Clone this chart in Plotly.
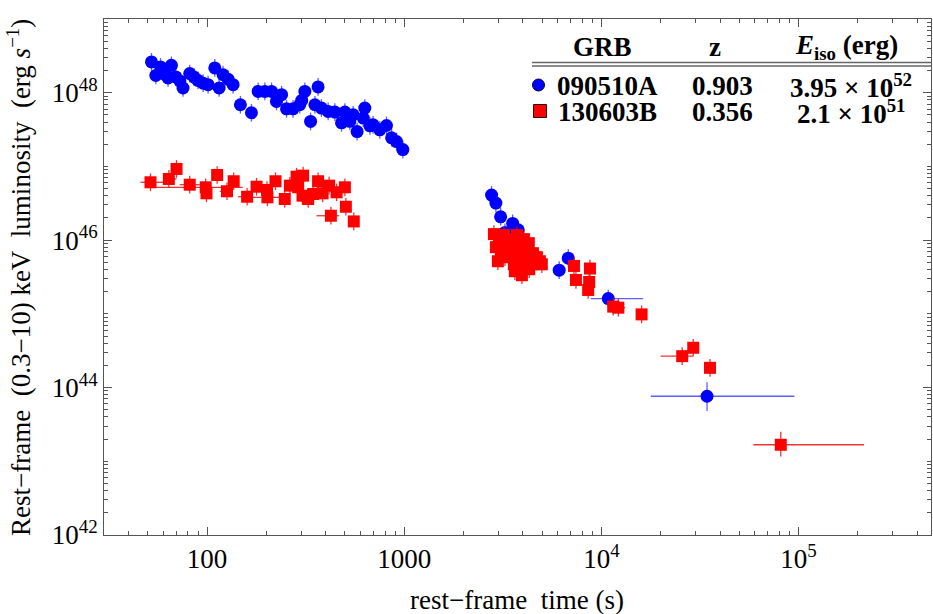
import numpy as np
import plotly.graph_objects as go

# ---------------- data (log10 values) ----------------
# GRB 090510A (blue circles)
blue_log_t = [1.718, 1.740, 1.764, 1.790, 1.802, 1.819, 1.841, 1.862, 1.878, 1.912,
              1.935, 1.954, 1.980, 2.005, 2.039, 2.061, 2.081, 2.107, 2.132, 2.169,
              2.225, 2.259, 2.293, 2.327, 2.352, 2.378, 2.403, 2.436, 2.470, 2.480,
              2.496, 2.525, 2.547, 2.563, 2.580, 2.614, 2.648, 2.682, 2.699, 2.724,
              2.741, 2.761, 2.792, 2.800, 2.826, 2.842, 2.876, 2.910, 2.936, 2.961,
              2.993, 3.443, 3.465, 3.489, 3.511, 3.550, 3.578, 3.786, 3.832, 4.035,
              4.536]
blue_log_L = [48.418, 48.235, 48.350, 48.240, 48.200, 48.371, 48.214, 48.160, 48.064, 48.259,
              48.210, 48.167, 48.130, 48.109, 48.336, 48.064, 48.245, 48.181, 48.109, 47.837,
              47.728, 48.018, 48.018, 48.018, 47.882, 47.973, 47.782, 47.782, 47.837, 47.895,
              48.018, 47.610, 47.837, 48.078, 47.792, 47.746, 47.737, 47.592, 47.737, 47.612,
              47.701, 47.473, 47.656, 47.792, 47.551, 47.565, 47.497, 47.555, 47.388, 47.337,
              47.229, 46.612, 46.503, 46.317, 46.105, 46.227, 46.140, 45.592, 45.755, 45.207,
              43.882]
blue_hbar_at = [4.035, 4.536]
blue_hbar_lo = [3.946, 4.251]
blue_hbar_hi = [4.212, 4.979]
blue_verr_dex = 0.12
blue_vbar_at = [4.536]
blue_vbar_lo = [0.20]
blue_vbar_hi = [0.19]

# GRB 130603B (red squares)
red_log_t = [1.713, 1.806, 1.845, 1.912, 1.993, 1.997, 2.051, 2.101, 2.135, 2.203,
             2.251, 2.304, 2.306, 2.347, 2.394, 2.420, 2.454, 2.462, 2.484, 2.487,
             2.513, 2.538, 2.563, 2.586, 2.619, 2.628, 2.657, 2.699, 2.704, 2.744,
             3.455, 3.480, 3.506, 3.531, 3.465, 3.490, 3.521, 3.546, 3.572, 3.587,
             3.607, 3.475, 3.511, 3.541, 3.566, 3.592, 3.617, 3.632, 3.556, 3.582,
             3.602, 3.627, 3.653, 3.673, 3.688, 3.658, 3.597, 3.634, 3.698, 3.536,
             3.561, 3.861, 3.871, 3.933, 3.938, 3.942, 4.060, 4.086, 4.204, 4.410,
             4.466, 4.551, 4.910]
red_log_L = [46.785, 46.830, 46.966, 46.752, 46.717, 46.635, 46.884, 46.663, 46.799, 46.589,
             46.725, 46.680, 46.581, 46.799, 46.558, 46.739, 46.861, 46.717, 46.603, 46.875,
             46.558, 46.626, 46.799, 46.635, 46.739, 46.331, 46.649, 46.717, 46.453, 46.254,
             46.082, 46.041, 46.068, 46.014, 45.905, 45.850, 45.932, 45.959, 46.068, 45.986,
             46.014, 45.714, 45.769, 45.810, 45.878, 45.796, 45.905, 45.959, 45.673, 45.633,
             45.714, 45.769, 45.823, 45.769, 45.714, 45.673, 45.524, 45.605, 45.673, 45.946,
             45.578, 45.650, 45.460, 45.324, 45.433, 45.615, 45.098, 45.084, 44.993, 44.426,
             44.540, 44.268, 43.224]
red_hbar_at = [1.713, 1.806, 1.912, 1.993, 2.101, 2.203, 2.306, 2.628, 4.086, 4.410, 4.910]
red_hbar_lo = [1.662, 1.777, 1.861, 1.735, 2.064, 2.157, 2.232, 2.555, 4.060, 4.301, 4.771]
red_hbar_hi = [1.794, 1.845, 1.963, 2.181, 2.125, 2.232, 2.403, 2.670, 4.120, 4.465, 5.332]
red_verr_dex = 0.12
red_vbar_at = [4.910]
red_vbar_lo = [0.158]
red_vbar_hi = [0.177]

x_tick_vals = [100, 1000, 1e4, 1e5]
x_tick_text = ["100", "1000", "10<sup>4</sup>", "10<sup>5</sup>"]
y_tick_vals = [1e42, 1e44, 1e46, 1e48]
y_tick_text = ["10<sup>42</sup>", "10<sup>44</sup>", "10<sup>46</sup>", "10<sup>48</sup>"]

legend_names = ["090510A", "130603B"]
legend_z = ["0.903", "0.356"]
legend_eiso = ["3.95 × 10<sup>52</sup>", "2.1 × 10<sup>51</sup>"]

# ---------------- helpers ----------------
def hbars(log_t, at, lo, hi):
    lt = np.array(log_t)
    t = 10 ** lt
    plus = np.zeros(len(lt))
    minus = np.zeros(len(lt))
    for a, l, h in zip(at, lo, hi):
        i = int(np.argmin(np.abs(lt - a)))
        plus[i] = 10 ** h - t[i]
        minus[i] = t[i] - 10 ** l
    return plus, minus


def vbars(log_t, log_L, dex, at, lo, hi):
    lt = np.array(log_t)
    L = 10 ** np.array(log_L)
    lo_d = np.full(len(lt), dex)
    hi_d = np.full(len(lt), dex)
    for a, l, h in zip(at, lo, hi):
        i = int(np.argmin(np.abs(lt - a)))
        lo_d[i] = l
        hi_d[i] = h
    return L * (10 ** hi_d - 1), L * (1 - 10 ** (-lo_d))


W, H = 933, 614
LP, RP, TP, BP = 104, 931, 19, 535
FONT = "Liberation Serif"
BLUE = "#0000FF"
RED = "#FF0000"

fig = go.Figure()

for log_t, log_L, hb, vb, color, ecolor, sym, size in [
    (blue_log_t, blue_log_L, (blue_hbar_at, blue_hbar_lo, blue_hbar_hi),
     (blue_verr_dex, blue_vbar_at, blue_vbar_lo, blue_vbar_hi), BLUE, "rgba(40,40,255,0.75)", "circle", 13),
    (red_log_t, red_log_L, (red_hbar_at, red_hbar_lo, red_hbar_hi),
     (red_verr_dex, red_vbar_at, red_vbar_lo, red_vbar_hi), RED, "rgba(235,0,0,0.8)", "square", 12),
]:
    xp, xm = hbars(log_t, *hb)
    yp, ym = vbars(log_t, log_L, *vb)
    fig.add_trace(go.Scatter(
        x=10 ** np.array(log_t), y=10 ** np.array(log_L), mode="markers",
        marker=dict(symbol=sym, size=size, color=color, line=dict(width=0)),
        error_x=dict(type="data", symmetric=False, array=xp, arrayminus=xm,
                     color=ecolor, thickness=1.3, width=0),
        error_y=dict(type="data", symmetric=False, array=yp, arrayminus=ym,
                     color=ecolor, thickness=1.3, width=0),
        showlegend=False, cliponaxis=True,
    ))

axcol = "#555555"
common = dict(type="log", showgrid=False, zeroline=False, showline=True, linecolor=axcol,
              linewidth=1, mirror="ticks", ticks="inside", ticklen=8, tickwidth=1,
              tickcolor=axcol, tickfont=dict(family=FONT, size=27, color="black"),
              tickmode="array")

x_minor = [float(k * 10 ** n) for n in range(1, 6) for k in range(2, 10)]
y_minor = [float(k * 10 ** n) for n in range(42, 49) for k in range(1, 10)
           if not (k == 1 and n % 2 == 0)]

fig.update_xaxes(**common, range=[np.log10(30), 5.672], tickvals=x_tick_vals,
                 ticktext=x_tick_text,
                 minor=dict(tickmode="array", tickvals=x_minor, ticks="inside",
                            ticklen=4, tickwidth=1, tickcolor=axcol, showgrid=False))
fig.update_yaxes(**common, range=[42, 49], tickvals=y_tick_vals, ticktext=y_tick_text,
                 minor=dict(tickmode="array", tickvals=y_minor, ticks="inside",
                            ticklen=4, tickwidth=1, tickcolor=axcol, showgrid=False))


def px(x):
    return (x - LP) / (RP - LP)


def py(y):
    return (BP - y) / (BP - TP)


ann = []
ann.append(dict(text="rest−frame\u00a0\u00a0time (s)", x=px(517), y=py(600), xref="paper",
                yref="paper", showarrow=False, xanchor="center", yanchor="middle",
                font=dict(family=FONT, size=27, color="black")))
ann.append(dict(text="Rest−frame\u00a0\u00a0(0.3−10) keV\u00a0\u00a0luminosity\u00a0\u00a0(erg <i>s</i><sup>−1</sup>)",
                x=px(19), y=py(278), xref="paper", yref="paper", showarrow=False,
                textangle=-90, xanchor="center", yanchor="middle",
                font=dict(family=FONT, size=27, color="black")))

lf = dict(family=FONT, size=27, color="black")
col_x = [607, 722, 851]
header = ["<b>GRB</b>", "<b>z</b>", "<b><i>E</i><sub>iso</sub> (erg)</b>"]
for cx, txt in zip([602, 715, 846], header):
    ann.append(dict(text=txt, x=px(cx), y=py(47), xref="paper", yref="paper",
                    showarrow=False, xanchor="center", yanchor="middle", font=lf))
for row, yy in enumerate([86, 112]):
    for cx, txt in zip(col_x, [legend_names[row], legend_z[row], legend_eiso[row]]):
        ann.append(dict(text="<b>" + txt + "</b>", x=px(cx), y=py(yy), xref="paper",
                        yref="paper", showarrow=False, xanchor="center", yanchor="middle",
                        font=lf))

shapes = []
for yy in [62.5, 66]:
    shapes.append(dict(type="line", xref="paper", yref="paper", x0=px(532), x1=px(931),
                       y0=py(yy), y1=py(yy), line=dict(color="#666666", width=1.3)))
shapes.append(dict(type="circle", xref="paper", yref="paper", x0=px(532.5), x1=px(544.5),
                   y0=py(91), y1=py(79), fillcolor=BLUE, line=dict(color="#000033", width=1)))
shapes.append(dict(type="rect", xref="paper", yref="paper", x0=px(533.5), x1=px(546.5),
                   y0=py(117.5), y1=py(104.5), fillcolor=RED, line=dict(color="#330000", width=1)))

fig.update_layout(width=W, height=H, margin=dict(l=LP, r=W - RP, t=TP, b=H - BP),
                  paper_bgcolor="white", plot_bgcolor="white", annotations=ann,
                  shapes=shapes, font=dict(family=FONT))

fig.write_html("out.html", config={"displayModeBar": False},
               post_script="document.body.style.margin='0px';document.body.style.overflow='hidden';")
